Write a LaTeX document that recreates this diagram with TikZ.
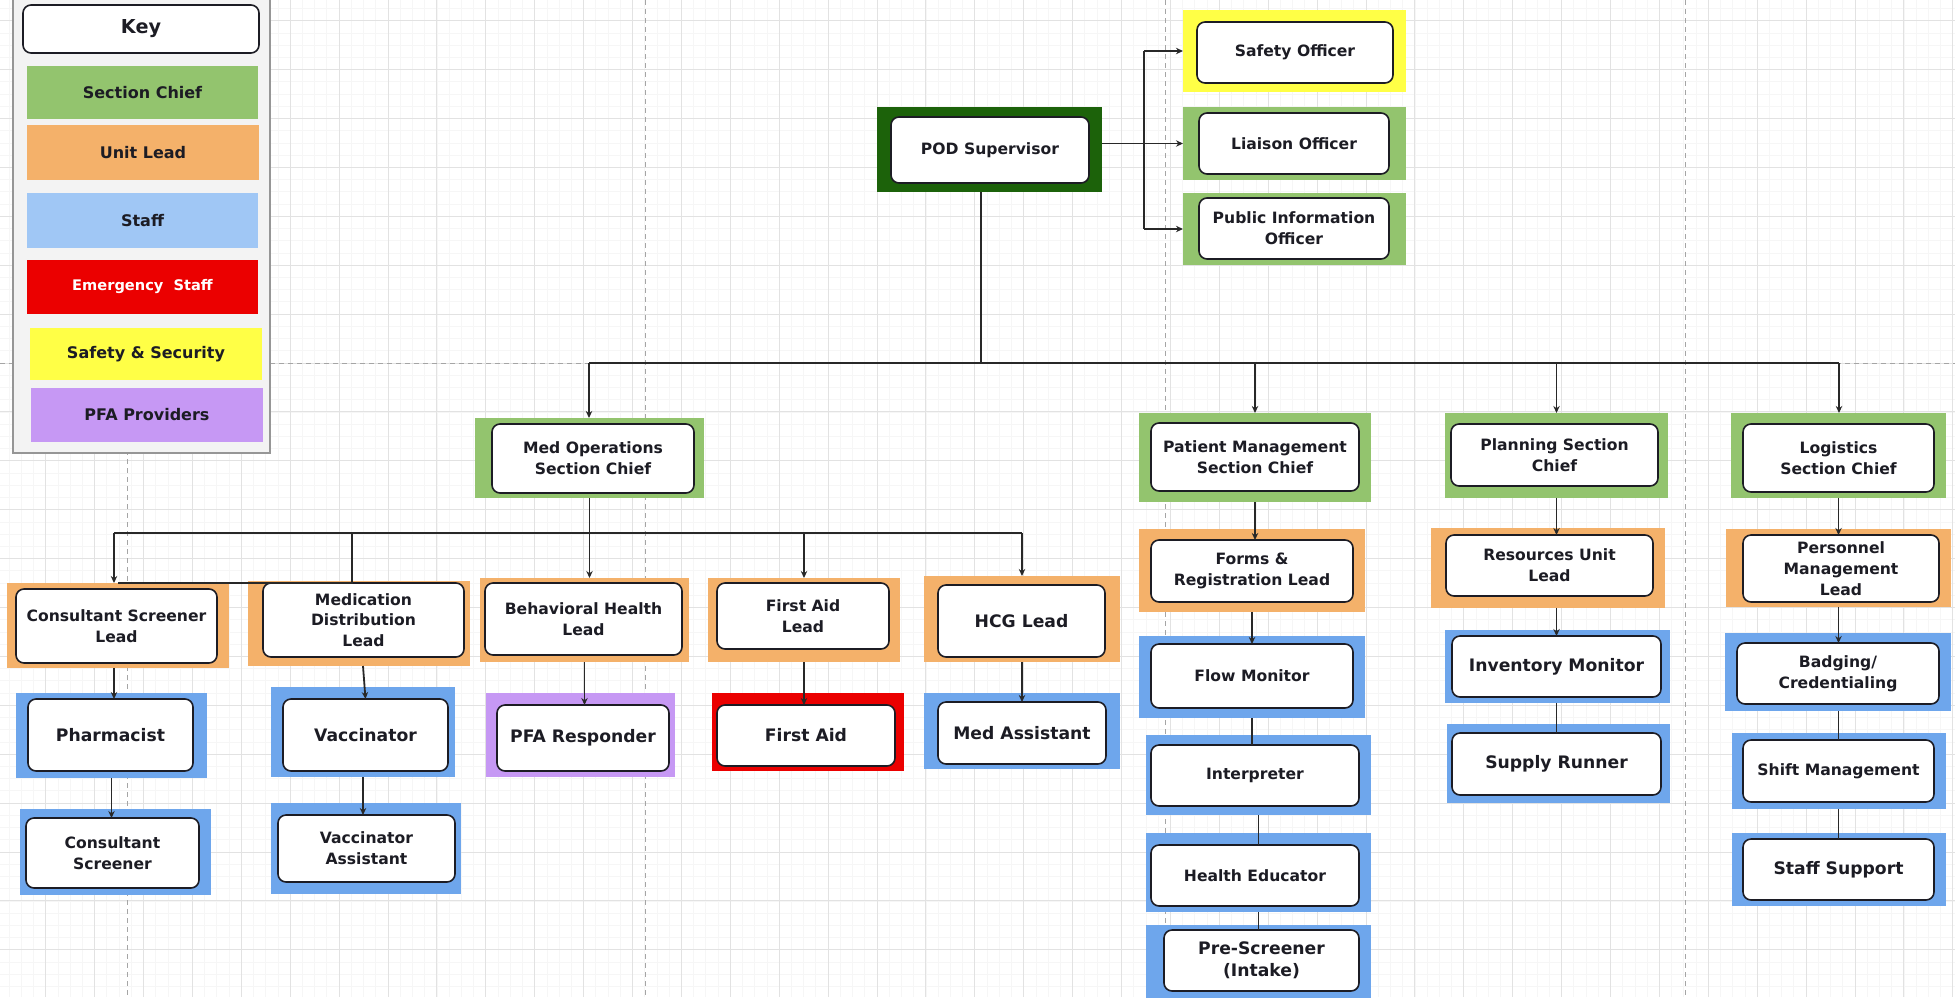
\documentclass[tikz,border=0pt]{standalone}
\usepackage{fontspec}
\setmainfont{DejaVu Sans}
\usetikzlibrary{fit,arrows.meta}

\definecolor{gridmajor}{RGB}{226,226,226}
\definecolor{gridminor}{RGB}{246,246,246}
\definecolor{pagebreak}{RGB}{165,165,165}
\definecolor{chief}{RGB}{147,196,110}
\definecolor{lead}{RGB}{244,177,106}
\definecolor{staff}{RGB}{110,166,236}
\definecolor{staffkey}{RGB}{160,199,245}
\definecolor{emerg}{RGB}{235,0,0}
\definecolor{safety}{RGB}{255,255,70}
\definecolor{pfa}{RGB}{198,152,244}
\definecolor{supervisor}{RGB}{28,98,10}
\definecolor{ink}{RGB}{28,28,36}
\definecolor{wire}{RGB}{40,40,40}
\definecolor{panel}{RGB}{243,243,243}
\definecolor{panelline}{RGB}{150,150,150}

\tikzset{
  frame/.style={inner sep=0pt, outer sep=0pt, draw=none},
  card/.style={inner sep=0pt, outer sep=0pt, draw=ink, line width=0.8pt,
    fill=white, rounded corners=4pt},
  role text/.style={inner sep=0pt, outer sep=0pt, align=center, text=ink,
    font=\bfseries\fontsize{7.8}{10.4}\selectfont},
  big/.style={font=\bfseries\fontsize{8.6}{10.8}\selectfont},
  conn/.style={draw=wire, line width=0.9pt},
  arr/.style={conn, -{Stealth[length=3.5pt,width=3.2pt]}},
  swatch/.style={inner sep=0pt, outer sep=0pt, draw=none},
  swatch text/.style={inner sep=0pt, outer sep=0pt, align=center, text=ink,
    font=\bfseries\fontsize{8}{10}\selectfont},
  grid major/.style={draw=gridmajor, line width=0.4pt},
  grid minor/.style={draw=gridminor, line width=0.3pt},
  page break/.style={draw=pagebreak, line width=0.45pt, dash pattern=on 2.5pt off 2pt},
}

% #1 name, #2 frame colour, #3 frame corners, #4 card corners, #5 extra text style, #6 text
\newcommand\role[6]{%
  \node[frame, fill=#2, fit={#3}] (#1f) {};
  \node[card, fit={#4}] (#1) {};
  \node[role text, #5] (#1t) at (#1.center) {#6};}

% #1 name, #2 colour, #3 corners, #4 extra text style, #5 text
\newcommand\keyentry[5]{%
  \node[swatch, fill=#2, fit={#3}] (#1) {};
  \node[swatch text, #4] (#1t) at (#1.center) {#5};}

\begin{document}
\begin{tikzpicture}[x=0.5pt, y=-0.5pt]
\useasboundingbox (0,0) rectangle (1955,997);

% drawing-canvas grid and page breaks
\begin{scope}
  \clip (0,0) rectangle (1955,997);
  \fill[white] (0,0) rectangle (1955,997);
  \foreach \i in {0,...,160} \draw[grid minor] ({-3.3+\i*12.225},0) -- ++(0,997);
  \foreach \i in {0,...,82} \draw[grid minor] (0,{-3.85+\i*12.225}) -- ++(1955,0);
  \foreach \i in {0,...,40} \draw[grid major] ({45.6+\i*48.9},0) -- ++(0,997);
  \foreach \i in {0,...,20} \draw[grid major] (0,{20.6+\i*48.9}) -- ++(1955,0);
  \foreach \x in {127,645,1165,1685} \draw[page break] (\x,0) -- (\x,997);
  \draw[page break] (0,363) -- (1955,363);
\end{scope}

% key
\node[frame, fill=panel, draw=panelline, line width=1.2pt, fit={(13,-5) (270,453)}] (keypanel) {};
\node[card, fit={(23,5) (259,53)}] (keytitle) {};
\node[swatch text, font=\bfseries\fontsize{9.6}{11}\selectfont] (keytitlet) at (keytitle.center) {Key};
\keyentry{keychief}{chief}{(27,66) (258,119)}{}{Section Chief}
\keyentry{keylead}{lead}{(27,125) (259,180)}{}{Unit Lead}
\keyentry{keystaff}{staffkey}{(27,193) (258,248)}{}{Staff}
\keyentry{keyemerg}{emerg}{(27,260) (258,314)}{text=white, font=\bfseries\fontsize{7.3}{9}\selectfont}{Emergency\ \ Staff}
\keyentry{keysafety}{safety}{(30,328) (262,380)}{}{Safety \& Security}
\keyentry{keypfa}{pfa}{(31,388) (263,442)}{}{PFA Providers}

% command staff
\role{pod}{supervisor}{(877,107) (1102,192)}{(891,117) (1089,183)}{}{POD Supervisor}
\role{safety}{safety}{(1183,10) (1406,92)}{(1197,22) (1393,83)}{}{Safety Officer}
\role{liaison}{chief}{(1183,107) (1406,180)}{(1199,113) (1389,174)}{}{Liaison Officer}
\role{pio}{chief}{(1183,193) (1406,265)}{(1199,198) (1389,259)}{}{Public Information\\Officer}

% section chiefs
\role{medops}{chief}{(475,418) (704,498)}{(492,424) (694,493)}{}{Med Operations\\Section Chief}
\role{patient}{chief}{(1139,413) (1371,502)}{(1151,423) (1359,491)}{}{Patient Management\\Section Chief}
\role{planning}{chief}{(1445,413) (1668,498)}{(1451,424) (1658,486)}{}{Planning Section\\Chief}
\role{logistics}{chief}{(1731,413) (1946,498)}{(1743,424) (1934,492)}{}{Logistics\\Section Chief}

% med operations
\role{conslead}{lead}{(7,583) (229,668)}{(16,589) (217,663)}{}{Consultant Screener\\Lead}
\role{medlead}{lead}{(248,581) (470,666)}{(263,583) (464,657)}{}{Medication\\Distribution\\Lead}
\role{bhlead}{lead}{(480,578) (689,662)}{(485,583) (682,655)}{}{Behavioral Health\\Lead}
\role{falead}{lead}{(708,578) (900,662)}{(717,583) (889,649)}{}{First Aid\\Lead}
\role{hcglead}{lead}{(924,576) (1120,662)}{(938,585) (1105,657)}{big}{HCG Lead}
\role{pharm}{staff}{(16,693) (207,778)}{(28,699) (193,771)}{big}{Pharmacist}
\role{consscr}{staff}{(20,809) (211,895)}{(26,818) (199,888)}{}{Consultant\\Screener}
\role{vacc}{staff}{(271,687) (455,777)}{(283,699) (448,771)}{big}{Vaccinator}
\role{vaccasst}{staff}{(271,803) (461,894)}{(278,815) (455,882)}{}{Vaccinator\\Assistant}
\role{pfa}{pfa}{(486,693) (675,777)}{(497,705) (669,771)}{big}{PFA Responder}
\role{firstaid}{emerg}{(712,693) (904,771)}{(717,705) (895,766)}{big}{First Aid}
\role{medasst}{staff}{(924,693) (1120,769)}{(938,702) (1106,764)}{big}{Med Assistant}

% patient management
\role{forms}{lead}{(1139,529) (1365,612)}{(1151,540) (1353,602)}{}{Forms \&\\Registration Lead}
\role{flow}{staff}{(1139,636) (1365,718)}{(1151,644) (1353,708)}{}{Flow Monitor}
\role{interp}{staff}{(1146,735) (1371,815)}{(1151,745) (1359,806)}{}{Interpreter}
\role{healthed}{staff}{(1146,833) (1371,912)}{(1151,845) (1359,906)}{}{Health Educator}
\role{prescr}{staff}{(1146,925) (1371,998)}{(1164,930) (1359,991)}{big}{Pre-Screener\\(Intake)}

% planning
\role{resources}{lead}{(1431,528) (1665,608)}{(1446,535) (1653,596)}{}{Resources Unit\\Lead}
\role{inventory}{staff}{(1445,630) (1670,703)}{(1452,636) (1661,697)}{big}{Inventory Monitor}
\role{supply}{staff}{(1447,724) (1670,803)}{(1452,733) (1661,795)}{big}{Supply Runner}

% logistics
\role{personnel}{lead}{(1726,529) (1951,607)}{(1743,535) (1939,602)}{}{Personnel\\Management\\Lead}
\role{badging}{staff}{(1725,633) (1951,711)}{(1737,643) (1939,704)}{}{Badging/\\Credentialing}
\role{shift}{staff}{(1732,733) (1946,809)}{(1743,740) (1934,802)}{}{Shift Management}
\role{staffsup}{staff}{(1732,833) (1946,906)}{(1743,839) (1934,900)}{big}{Staff Support}

% supervisor to officers
\coordinate (spine) at (1144,144);
\draw[arr] (podf.east |- liaisonf.west) -- (liaisonf.west);
\draw[conn] (spine |- safetyf.west) -- (spine |- piof.west);
\draw[arr] (spine |- safetyf.west) -- (safetyf.west);
\draw[arr] (spine |- piof.west) -- (piof.west);

% supervisor to sections
\coordinate (busL) at (589,363);
\coordinate (busR) at (1839,363);
\coordinate (podDrop) at (981,363);
\draw[conn] (podDrop |- podf.south) -- (podDrop);
\draw[conn] (busL) -- (busR);
\draw[arr] (busL) -- (busL |- medopsf.north);
\draw[arr] (patientf.north |- busL) -- (patientf.north);
\draw[arr] (planningf.north |- busL) -- (planningf.north);
\draw[arr] (busR) -- (busR |- logisticsf.north);

% med operations branch
\coordinate (mbusL) at (114,533);
\coordinate (mbusR) at (1022,533);
\coordinate (mjog) at (352,533);
\draw[conn] (mbusL) -- (mbusR);
\draw[arr] (medopsf.south) -- (medopsf.south |- bhleadf.north);
\draw[arr] (mbusL) -- (mbusL |- consleadf.north);
\draw[conn] (mjog) |- (consleadf.north);
\draw[arr] (faleadf.north |- mbusL) -- (faleadf.north);
\draw[arr] (mbusR) -- (mbusR |- hcgleadf.north);
\draw[arr] (mbusL |- consleadf.south) -- (mbusL |- pharm.north);
\draw[arr] (pharmf.south) -- (pharmf.south |- consscr.north);
\draw[arr] (vaccf.north |- medleadf.south) -- (vacc.north);
\draw[arr] (vaccf.south) -- (vaccf.south |- vaccasst.north);
\draw[arr] (bhleadf.south) -- (bhleadf.south |- pfa.north);
\draw[arr] (faleadf.south) -- (faleadf.south |- firstaid.north);
\draw[arr] (hcgleadf.south) -- (hcgleadf.south |- medasst.north);

% patient management branch
\draw[arr] (patientf.south) -- (patientf.south |- forms.north);
\draw[arr] (formsf.south) -- (formsf.south |- flow.north);
\draw[conn] (flowf.south) -- (flowf.south |- interp.north);
\draw[conn] (interpf.south) -- (interpf.south |- healthed.north);
\draw[conn] (healthedf.south) -- (healthedf.south |- prescr.north);

% planning branch
\draw[arr] (planningf.south) -- (planningf.south |- resources.north);
\draw[arr] (planningf.south |- resourcesf.south) -- (planningf.south |- inventory.north);
\draw[conn] (planningf.south |- inventoryf.south) -- (planningf.south |- supply.north);

% logistics branch
\draw[arr] (logisticsf.south) -- (logisticsf.south |- personnel.north);
\draw[arr] (logisticsf.south |- personnelf.south) -- (logisticsf.south |- badging.north);
\draw[conn] (logisticsf.south |- badgingf.south) -- (logisticsf.south |- shift.north);
\draw[conn] (logisticsf.south |- shiftf.south) -- (logisticsf.south |- staffsup.north);
\end{tikzpicture}
\end{document}
